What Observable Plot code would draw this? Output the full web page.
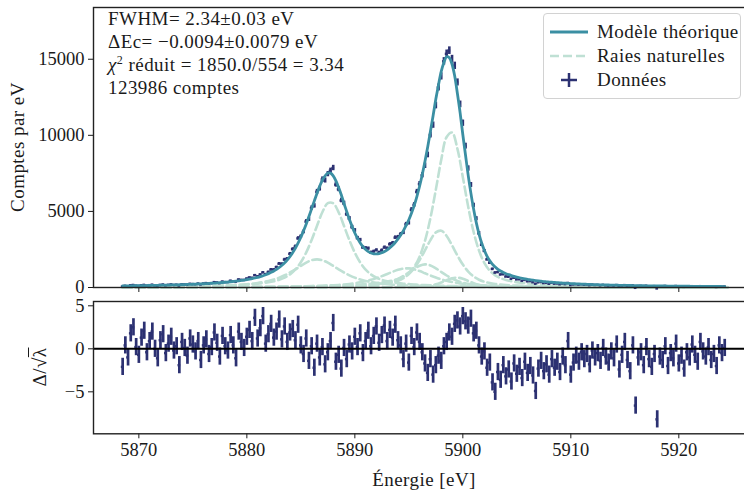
<!DOCTYPE html>
<html><head><meta charset="utf-8">
<script src="https://cdn.jsdelivr.net/npm/d3@7"></script>
<script src="https://cdn.jsdelivr.net/npm/@observablehq/plot@0.6"></script>
<style>
html,body{margin:0;padding:0;overflow:hidden;background:#fff;width:744px;height:491px}
#wrap{position:relative;width:755px;height:491px;font-family:"Liberation Serif","Times New Roman","DejaVu Serif",serif;color:#1a1a1a}
#wrap svg{display:block}
.info{position:absolute;left:108px;top:7px;font-size:19px;letter-spacing:0.45px;line-height:23px;white-space:nowrap}
.legend{position:absolute;left:543px;top:13px;width:198px;height:86px;box-sizing:border-box;border:1px solid #d2d2d2;border-radius:4px;background:rgba(255,255,255,0.85);font-size:19px;letter-spacing:0.45px}
.legend .row{position:absolute;left:0;height:24px;line-height:24px;width:198px;white-space:nowrap}
.legend .row svg{position:absolute;left:5px;top:0}
.legend .row span{position:absolute;left:53px}
.lab{position:absolute;font-size:19px;letter-spacing:0.45px;white-space:nowrap;transform:translate(-50%,-50%)}
.rot{transform:translate(-50%,-50%) rotate(-90deg)}
</style></head>
<body>
<div id="wrap">
<div id="plots"></div>
<div class="info">FWHM= 2.34±0.03 eV<br>ΔEc= −0.0094±0.0079 eV<br><i>χ</i><sup style="font-size:12px;line-height:0">2</sup> réduit = 1850.0/554 = 3.34<br>123986 comptes</div>
<div class="legend">
 <div class="row" style="top:6px"><svg width="44" height="24"><line x1="1" x2="39" y1="12" y2="12" stroke="#3b8fa3" stroke-width="2.8"/></svg><span>Modèle théorique</span></div>
 <div class="row" style="top:30px"><svg width="44" height="24"><line x1="1" x2="39" y1="12" y2="12" stroke="#bfe0d4" stroke-width="2.6" stroke-dasharray="9,4"/></svg><span>Raies naturelles</span></div>
 <div class="row" style="top:54px"><svg width="44" height="24"><line x1="12" x2="28" y1="12" y2="12" stroke="#2c3172" stroke-width="2.5"/><line x1="20" x2="20" y1="5" y2="19" stroke="#2c3172" stroke-width="2.5"/></svg><span>Données</span></div>
</div>
<div class="lab rot" style="left:18px;top:147px">Comptes par eV</div>
<div class="lab rot" style="left:40px;top:367px">Δ/√<span style="text-decoration:overline">λ</span></div>
<div class="lab" style="left:424px;top:480px">Énergie [eV]</div>
</div>
<script>
// ---- bin centres (eV), 0.25 eV bins ----
const energies = [
5868.5,5868.75,5869,5869.25,5869.5,5869.75,5870,5870.25,
5870.5,5870.75,5871,5871.25,5871.5,5871.75,5872,5872.25,
5872.5,5872.75,5873,5873.25,5873.5,5873.75,5874,5874.25,
5874.5,5874.75,5875,5875.25,5875.5,5875.75,5876,5876.25,
5876.5,5876.75,5877,5877.25,5877.5,5877.75,5878,5878.25,
5878.5,5878.75,5879,5879.25,5879.5,5879.75,5880,5880.25,
5880.5,5880.75,5881,5881.25,5881.5,5881.75,5882,5882.25,
5882.5,5882.75,5883,5883.25,5883.5,5883.75,5884,5884.25,
5884.5,5884.75,5885,5885.25,5885.5,5885.75,5886,5886.25,
5886.5,5886.75,5887,5887.25,5887.5,5887.75,5888,5888.25,
5888.5,5888.75,5889,5889.25,5889.5,5889.75,5890,5890.25,
5890.5,5890.75,5891,5891.25,5891.5,5891.75,5892,5892.25,
5892.5,5892.75,5893,5893.25,5893.5,5893.75,5894,5894.25,
5894.5,5894.75,5895,5895.25,5895.5,5895.75,5896,5896.25,
5896.5,5896.75,5897,5897.25,5897.5,5897.75,5898,5898.25,
5898.5,5898.75,5899,5899.25,5899.5,5899.75,5900,5900.25,
5900.5,5900.75,5901,5901.25,5901.5,5901.75,5902,5902.25,
5902.5,5902.75,5903,5903.25,5903.5,5903.75,5904,5904.25,
5904.5,5904.75,5905,5905.25,5905.5,5905.75,5906,5906.25,
5906.5,5906.75,5907,5907.25,5907.5,5907.75,5908,5908.25,
5908.5,5908.75,5909,5909.25,5909.5,5909.75,5910,5910.25,
5910.5,5910.75,5911,5911.25,5911.5,5911.75,5912,5912.25,
5912.5,5912.75,5913,5913.25,5913.5,5913.75,5914,5914.25,
5914.5,5914.75,5915,5915.25,5915.5,5915.75,5916,5916.25,
5916.5,5916.75,5917,5917.25,5917.5,5917.75,5918,5918.25,
5918.5,5918.75,5919,5919.25,5919.5,5919.75,5920,5920.25,
5920.5,5920.75,5921,5921.25,5921.5,5921.75,5922,5922.25,
5922.5,5922.75,5923,5923.25,5923.5,5923.75,5924,5924.25];
const binWidth = 0.25;

// ---- theoretical model (counts per eV) at bin centres ----
const model = [
104,106,109,111,114,117,120,123,
126,129,133,136,140,144,148,152,
156,161,166,171,176,181,187,193,
200,207,214,221,229,238,247,257,
267,278,290,302,315,329,344,360,
377,396,416,438,462,489,518,550,
585,625,670,720,775,840,913,995,
1088,1195,1318,1462,1625,1818,2037,2295,
2586,2925,3299,3725,4176,4665,5176,5695,
6197,6660,7065,7340,7520,7514,7338,7010,
6568,6075,5510,4985,4462,4000,3581,3224,
2924,2681,2497,2358,2269,2217,2207,2228,
2283,2365,2478,2616,2780,2974,3196,3452,
3741,4075,4452,4897,5401,5996,6670,7443,
8308,9249,10270,11307,12381,13329,14204,14790,
15160,15097,14673,13884,12731,11477,10035,8693,
7355,6187,5136,4249,3513,2904,2431,2043,
1758,1518,1343,1194,1085,987,908,842,
784,730,681,641,603,568,535,507,
481,456,433,413,393,375,358,344,
330,317,304,292,280,269,258,249,
241,232,224,217,209,202,195,189,
184,179,173,168,164,159,154,150,
146,143,139,136,132,129,125,122,
119,116,113,111,108,106,104,101,
99,97,95,93,91,89,87,85,
84,82,81,79,78,76,75,74,
72,71,69,68,67,66,64,63];

// ---- normalised residuals Δ/√λ per bin ----
const residuals = [
-2.1,0.4,-1.0,1.8,2.5,0.2,-0.7,1.3,
2.1,-0.4,0.9,2.0,0.0,-1.1,1.0,1.7,
-0.5,0.6,1.4,-0.2,0.3,-1.9,0.8,0.1,
-0.8,1.2,0.5,-0.3,0.9,-1.3,0.4,1.1,
-0.6,0.2,1.9,0.7,-0.9,1.5,0.3,-0.2,
1.6,0.4,-1.1,2.0,0.8,0.1,1.4,2.2,
0.9,3.6,1.2,2.4,3.8,0.6,1.7,2.9,
1.3,2.0,3.4,1.1,2.6,0.8,1.9,2.3,
1.0,2.8,0.4,-0.6,1.2,-1.4,0.3,-2.2,
0.6,-1.0,0.2,-1.8,-0.4,0.9,3.0,-1.5,
-0.7,-2.3,0.1,-1.2,0.5,-0.3,1.4,0.2,
1.8,-0.5,0.9,2.1,0.3,1.5,2.6,0.7,
1.6,2.7,0.9,2.2,1.3,2.8,1.0,0.4,
-1.2,0.6,-1.6,1.5,0.2,1.9,0.8,-0.4,
-1.7,-2.8,-1.2,-3.0,-1.9,-0.8,-1.4,0.3,
0.8,1.9,1.4,2.9,3.3,2.6,3.8,3.2,
2.7,3.5,1.8,2.1,0.4,-0.9,-0.3,-2.2,
-1.6,-3.9,-5.0,-2.7,-3.6,-1.9,-3.2,-2.4,
-3.8,-1.7,-2.9,-2.1,-3.4,-1.5,-2.8,-2.0,
-3.1,-4.9,-2.3,-1.4,-2.6,-1.8,-3.0,-1.2,
-2.2,-1.5,-2.7,-0.9,-1.9,0.9,-3.0,-1.6,
-0.8,-1.5,-0.4,-1.2,-0.6,-1.8,-0.2,-1.0,
-0.5,-1.4,0.1,-0.9,-1.6,-0.3,-1.1,0.5,
-2.4,-0.7,0.8,-1.3,-2.6,0.4,-6.6,-1.0,
-0.4,-1.9,0.2,-1.2,-2.1,-0.6,-8.2,-0.9,
-1.3,0.3,-2.0,-0.5,-1.1,0.6,-1.7,-0.8,
-2.3,-0.4,-1.0,0.5,-0.7,-1.5,0.8,-0.3,
-0.9,0.2,-1.3,-0.6,-2.0,0.4,-0.5,0.1];

// ---- natural lines (dashed), counts per eV ----
const lineEnergies = [5868.5,5870,5872,5874,5876,5878,5879,5880,5881,
5882,5882.5,5883,5883.5,5884,5884.5,5885,5885.5,5886,5886.5,
5887,5887.5,5888,5888.5,5889,5889.5,5890,5890.5,5891,5891.5,
5892,5892.5,5893,5893.5,5894,5894.5,5895,5895.5,5896,5896.5,
5897,5897.5,5898,5898.5,5899,5899.5,5900,5900.5,5901,5901.5,
5902,5902.5,5903,5903.5,5904,
5905,5906,5907,5908,5910,5912,5914,5917,5920,5924.5];
const lineKa11 = [15.5,17,20,23,27,33,36,40,44,
50,53,56,60,64,68,73,79,85,92,100,109,119,130,143,158,176,197,222,251,287,331,387,458,559,711,953,1363,2037,3087,4566,6432,8391,9887,10186,9109,7252,5298,3644,2419,1602,1098,795,614,496,
352,265,207,165,112,81,62,43,32,22];
const lineKa12 = [7.7,8.6,10,11.7,13.9,16.8,18.6,20.8,23.3,
26.3,28,30,32,34,37,40,43,46.5,50.5,55,60.5,66.6,73.6,81.8,91.4,103,116,133,153,179,213,260,330,439,613,882,1275,1805,2449,3117,3621,3732,3388,2768,2096,1506,1049,725,511,375,289,233,193,164,
124,96,77,63,44.5,33,25.4,18,13.6,9.4];
const lineKa13 = [11,12.4,14.6,17.5,21.3,26.5,29.9,33.9,38.8,
44.8,48.3,52.3,56.7,61.8,67.5,74,81.6,90.5,100.7,113,128,146,169,197,234,280,339,414,505,616,746,889,1035,1162,1243,1256,1194,1078,935,790,655,538,441,361,297,247,208,177,153,133,117,104,93.5,84,
69.5,58.3,49.6,42.6,32.5,25.5,20.6,15.5,12,8.7];
const lineKa14 = [5.1,5.7,6.6,7.8,9.4,11.5,12.8,14.4,16.3,
18.6,19.9,21.4,23,24.8,26.9,29.2,31.8,34.8,38.2,42.1,46.7,52,58.3,65.7,74.8,86,100,118.5,144,180,233,310,419,569,762,991,1232,1433,1520,1452,1262,1022,789,591,436,322,241,186,148,121,102,87,76,66.8,
52.8,42.7,35.2,29.5,21.6,16.4,12.9,9.5,7.2,5.1];
const lineKa15 = [0.45,0.5,0.57,0.67,0.79,0.94,1,1.1,1.3,
1.4,1.5,1.6,1.7,1.8,1.9,2.1,2.2,2.4,2.6,2.8,3,3.3,3.6,3.9,4.3,4.8,5.3,5.9,6.7,7.6,8.7,10,11.7,13.8,16.7,20.8,27.7,41,68,119,207,334,484,610,648,574,434,288,174,99,57,35.5,24.9,19.2,
13,9.5,7.3,5.7,3.8,2.7,2,1.4,1,0.7];
const lineKa21 = [33,39,49,64,88,126,155,195,252,
343,410,507,649,864,1188,1659,2304,3125,4063,4962,5542,5533,4940,4036,3099,2283,1643,1177,857,644,503,409,341,291,251,220,194,172,154,139,125,114,104,95,87,80.5,74.5,69,64,60,56,52,49,46,
41,37,33,30,25,21,18,14.4,11.9,9.1];
const lineKa22 = [30.8,36.5,46.9,62.4,86.8,128.8,162.6,213,294,
429,527,650,803,987,1197,1422,1634,1792,1850,1790,1631,1418,1193,983,800,648,524,427,352,293,248,213,185,162,144,129,115.5,104.5,95,86.7,79.4,73,67.3,62.3,57.8,53.7,50.1,46.8,43.8,41.1,38.7,36.4,34.4,32.5,
29.1,26.2,23.8,21.7,18.2,15.5,13.3,10.9,9,7];

// ---- ticks ----
const xTicks = [5870,5880,5890,5900,5910,5920];
const yTicksTop = [0,5000,10000,15000];
const yTicksRes = [-5,0,5];

// ---- colours ----
const navy = "#2c3172", teal = "#3b8fa3", mint = "#bfe0d4";

// tables built from the arrays above
const lines = {Ka11: lineKa11, Ka12: lineKa12, Ka13: lineKa13, Ka14: lineKa14, Ka15: lineKa15, Ka21: lineKa21, Ka22: lineKa22};
const lineTable = [];
for (const [name, vals] of Object.entries(lines)) vals.forEach((v, i) => lineTable.push({E: lineEnergies[i], v, c: name}));
const bins = energies.map((E, i) => {
  const m = model[i], r = residuals[i];
  const lam = m * binWidth;                 // expected counts in bin
  const n = lam + r * Math.sqrt(lam);       // observed counts (from residual definition)
  const d = n / binWidth, s = Math.sqrt(Math.max(n, 0)) / binWidth;
  return {E, m, r, d, lo: d - s, hi: d + s, x1: E - binWidth / 2, x2: E + binWidth / 2};
});

const xDomain = [5865.8, 5927.1];
const serif = "'Liberation Serif', 'Times New Roman', 'DejaVu Serif', serif";
const baseStyle = {fontFamily: serif, fontSize: "18.5px", color: "#1a1a1a", background: "transparent"};

const topPlot = Plot.plot({
  width: 755, height: 296, marginLeft: 93, marginRight: 0, marginTop: 7, marginBottom: 9,
  x: {domain: xDomain}, y: {domain: [0, 18400]},
  style: baseStyle,
  marks: [
    Plot.line(lineTable, {x: "E", y: "v", z: "c", stroke: mint, strokeWidth: 2.6, strokeDasharray: "9,4", curve: "catmull-rom"}),
    Plot.ruleX(bins, {x: "E", y1: "lo", y2: "hi", stroke: navy, strokeWidth: 2.6}),
    Plot.ruleY(bins, {y: "d", x1: "x1", x2: "x2", stroke: navy, strokeWidth: 2.4}),
    Plot.line(bins, {x: "E", y: "m", stroke: teal, strokeWidth: 2.8, curve: "catmull-rom"}),
    Plot.axisY({ticks: yTicksTop, tickSize: 5, tickPadding: 4, label: null, tickFormat: d3.format("d"), fontFamily: serif}),
    Plot.axisX({ticks: xTicks, tickSize: 5, label: null, tickFormat: () => ""}),
    Plot.frame({stroke: "#222", strokeWidth: 1.4})
  ]
});

const resPlot = Plot.plot({
  width: 755, height: 195, marginLeft: 93, marginRight: 0, marginTop: 5, marginBottom: 57.7,
  x: {domain: xDomain}, y: {domain: [-9.88, 5.5]},
  style: baseStyle,
  marks: [
    Plot.ruleX(bins, {x: "E", y1: d => d.r - 1, y2: d => d.r + 1, stroke: navy, strokeWidth: 2.7}),
    Plot.ruleY(bins, {y: "r", x1: "x1", x2: "x2", stroke: navy, strokeWidth: 2.4}),
    Plot.ruleY([0], {stroke: "#000", strokeWidth: 2}),
    Plot.axisY({ticks: yTicksRes, tickSize: 5, tickPadding: 4, label: null, tickFormat: d3.format("d"), fontFamily: serif}),
    Plot.axisX({ticks: xTicks, tickSize: 5, tickPadding: 4, label: null, tickFormat: d3.format("d"), fontFamily: serif}),
    Plot.frame({stroke: "#222", strokeWidth: 1.4})
  ]
});

const host = document.getElementById("plots");
host.appendChild(topPlot);
host.appendChild(resPlot);
</script>
</body></html>
